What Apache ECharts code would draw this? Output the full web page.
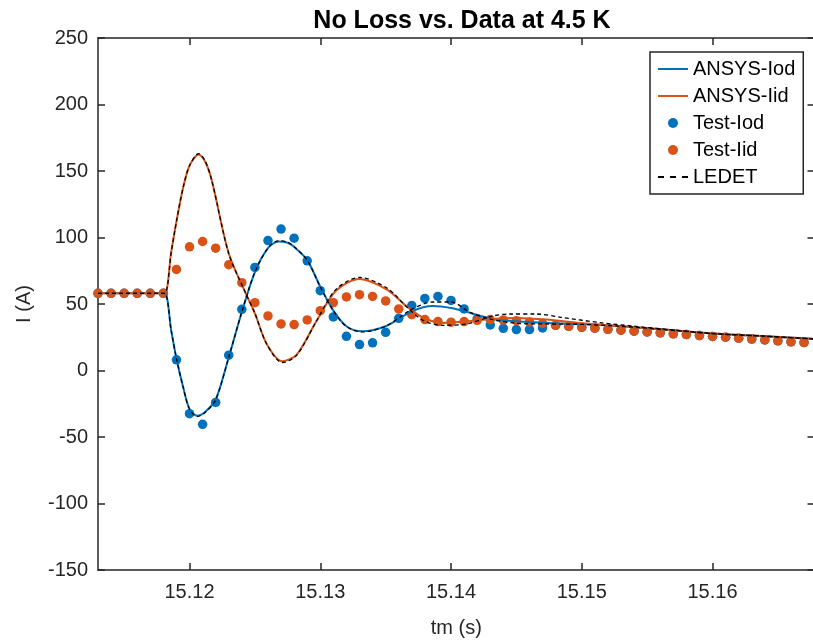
<!DOCTYPE html>
<html>
<head>
<meta charset="utf-8">
<script src="https://cdn.jsdelivr.net/npm/echarts@6/dist/echarts.min.js"></script>
<style>html,body{margin:0;padding:0;background:#fff;overflow:hidden;width:813px;height:643px;}#c{width:830px;height:643px;}</style>
</head>
<body>
<div id="c"></div>
<script>
// ---- data ----
const xTicks = [15.12, 15.13, 15.14, 15.15, 15.16];
const yTicks = [-150, -100, -50, 0, 50, 100, 150, 200, 250];

const ansysIodT = [15.113, 15.1175, 15.1181, 15.1186, 15.119, 15.1195, 15.120, 15.1206, 15.1212, 15.122, 15.123, 15.124, 15.125, 15.126, 15.1268, 15.1275, 15.128, 15.129, 15.130, 15.131, 15.132, 15.1332, 15.135, 15.137, 15.1386, 15.140, 15.1415, 15.1431, 15.145, 15.1473, 15.150, 15.153, 15.156, 15.160, 15.164, 15.169];
const ansysIodV = [58, 58, 58, 30, 9, -12, -29, -34, -31, -22, 10, 44, 74, 92, 97, 96, 93, 83, 63, 45, 33.3, 29.5, 33.3, 44.5, 48.5, 47, 43.3, 38.8, 37, 35.8, 35, 33.3, 31, 27.8, 25.8, 23];

const ansysIidT = [15.113, 15.1175, 15.1181, 15.1186, 15.119, 15.1195, 15.120, 15.1207, 15.1212, 15.1217, 15.123, 15.1243, 15.125, 15.1259, 15.1271, 15.1282, 15.1297, 15.1312, 15.133, 15.1351, 15.1366, 15.1379, 15.1394, 15.1412, 15.1432, 15.145, 15.1473, 15.150, 15.153, 15.156, 15.160, 15.164, 15.169];
const ansysIidV = [58, 58, 58, 89, 112, 137, 154, 162.5, 157, 143, 88, 58, 43, 20, 7, 12, 37, 60, 68.8, 60.8, 48.3, 39.5, 35.8, 37, 38.8, 39.5, 38.3, 35.5, 33.3, 31, 27.8, 25.8, 23];

const testT = [15.113, 15.114, 15.115, 15.116, 15.117, 15.118, 15.119, 15.120, 15.121, 15.122, 15.123, 15.124, 15.125, 15.126, 15.127, 15.128, 15.129, 15.130, 15.131, 15.132, 15.133, 15.134, 15.135, 15.136, 15.137, 15.138, 15.139, 15.140, 15.141, 15.142, 15.143, 15.144, 15.145, 15.146, 15.147, 15.148, 15.149, 15.150, 15.151, 15.152, 15.153, 15.154, 15.155, 15.156, 15.157, 15.158, 15.159, 15.160, 15.161, 15.162, 15.163, 15.164, 15.165, 15.166, 15.167];
const testIod = [58, 58, 58, 58, 58, 58, 8, -32.5, -40.5, -24, 11.5, 46, 77.5, 97.7, 106.3, 99.5, 82.5, 60, 40.3, 25.7, 19.5, 20.8, 28.7, 39.2, 48.8, 54.2, 55.7, 52.7, 46.3, 38.8, 34.3, 31.7, 30.8, 30.8, 32, 34, 33.2, 32.5, 31.8, 31, 30.3, 29.6, 29, 28.3, 27.6, 27, 26.3, 25.6, 25, 24.3, 23.6, 23, 22.3, 21.6, 21];
const testIid = [58, 58, 58, 58, 58, 58, 76, 93, 97, 92, 79.5, 66, 51, 41, 35, 34.5, 38, 45, 51, 55.3, 57, 55.7, 52.3, 46.3, 42, 38.3, 36.8, 36.3, 36.8, 37.7, 38.3, 38, 37.5, 36.5, 35.5, 34, 33.2, 32.5, 31.8, 31, 30.3, 29.6, 29, 28.3, 27.6, 27, 26.3, 25.6, 25, 24.3, 23.6, 23, 22.3, 21.6, 21];

const ledetIodT = [15.113, 15.1175, 15.1181, 15.1186, 15.119, 15.1195, 15.120, 15.1206, 15.1212, 15.122, 15.123, 15.124, 15.125, 15.126, 15.1268, 15.1275, 15.128, 15.129, 15.130, 15.131, 15.132, 15.1332, 15.135, 15.137, 15.1386, 15.140, 15.1415, 15.1431, 15.145, 15.1473, 15.150, 15.153, 15.156, 15.160, 15.164, 15.169];
const ledetIodV = [58, 58, 58, 30, 9, -12, -29, -34.5, -31.5, -22, 10, 44, 74, 92, 97.5, 96.5, 93, 83, 63, 45, 33, 29, 33.3, 46, 51.5, 51.5, 43.5, 38.5, 35.5, 35, 34.7, 33.3, 31, 27.8, 25.8, 23];

const ledetIidT = [15.113, 15.1175, 15.1181, 15.1186, 15.119, 15.1195, 15.120, 15.1207, 15.1212, 15.1217, 15.123, 15.1243, 15.125, 15.1259, 15.1271, 15.1282, 15.1297, 15.1312, 15.133, 15.1351, 15.1366, 15.1379, 15.1394, 15.1412, 15.1432, 15.1445, 15.1465, 15.1484, 15.1514, 15.154, 15.157, 15.160, 15.164, 15.169];
const ledetIidV = [58, 58, 58, 89, 112, 137, 154, 163, 157.5, 143, 88, 58, 43, 20, 6, 11.5, 37, 61, 70, 62, 48, 37.5, 34, 35, 41, 42.5, 42.5, 40, 36, 33.3, 30.5, 27.8, 25.8, 23.1];

const zip = (t, v) => t.map((x, i) => [x, v[i]]);

const BLUE = '#0072BD', ORANGE = '#D95319', AX = '#262626';
const FONT = 'Liberation Sans';
const LINE_ICON = 'path://M0,0h30v2h-30z';
const DASH_ICON = 'path://M0,0h6v2h-6zM12,0h6v2h-6zM24,0h6v2h-6z';

const chart = echarts.init(document.getElementById('c'), null, {renderer: 'canvas'});

const axisCommon = {
  axisLine: {show: true, onZero: false, lineStyle: {color: AX, width: 1.5}},
  splitLine: {show: false}
};

chart.setOption({
  animation: false,
  backgroundColor: '#fff',
  title: {
    text: 'No Loss vs. Data at 4.5 K',
    left: 457, textAlign: 'center', top: 4,
    textStyle: {fontFamily: FONT, fontSize: 25, fontWeight: 'bold', color: '#000'}
  },
  grid: {left: 98, top: 38, width: 716.5, bottom: 73, containLabel: false},
  legend: {
    data: [
      {name: 'ANSYS-Iod', icon: LINE_ICON},
      {name: 'ANSYS-Iid', icon: LINE_ICON},
      {name: 'Test-Iod', icon: 'circle'},
      {name: 'Test-Iid', icon: 'circle'},
      {name: 'LEDET', icon: DASH_ICON}
    ],
    orient: 'vertical', left: 650, top: 52,
    padding: [7, 8, 7, 8], itemGap: 7, itemWidth: 30, itemHeight: 10,
    borderColor: AX, borderWidth: 1.5, backgroundColor: '#fff',
    textStyle: {fontFamily: FONT, fontSize: 20, color: '#000', lineHeight: 20},
    selectedMode: false
  },
  xAxis: [{
    type: 'value', min: 15.113, max: 15.1678, position: 'bottom',
    ...axisCommon,
    axisTick: {show: true, inside: true, length: 7, customValues: xTicks, lineStyle: {color: AX, width: 1.5}},
    axisLabel: {show: true, customValues: xTicks, margin: 12, fontFamily: FONT, fontSize: 20, color: AX,
      formatter: v => v.toFixed(2)},
    name: 'tm (s)', nameLocation: 'middle', nameGap: 48,
    nameTextStyle: {fontFamily: FONT, fontSize: 20, color: AX}
  }, {
    type: 'value', min: 15.113, max: 15.1678, position: 'top',
    ...axisCommon,
    axisTick: {show: true, inside: true, length: 7, customValues: xTicks, lineStyle: {color: AX, width: 1.5}},
    axisLabel: {show: false}
  }],
  yAxis: [{
    type: 'value', min: -150, max: 250, interval: 50, position: 'left',
    ...axisCommon,
    axisTick: {show: true, inside: true, length: 7, lineStyle: {color: AX, width: 1.5}},
    axisLabel: {show: true, margin: 10, fontFamily: FONT, fontSize: 20, color: AX},
    name: 'I (A)', nameLocation: 'middle', nameGap: 64,
    nameTextStyle: {fontFamily: FONT, fontSize: 20, color: AX}
  }, {
    type: 'value', min: -150, max: 250, interval: 50, position: 'right',
    ...axisCommon,
    axisTick: {show: true, inside: true, length: 7, lineStyle: {color: AX, width: 1.5}},
    axisLabel: {show: false}
  }],
  series: [
    {name: 'ANSYS-Iod', type: 'line', data: zip(ansysIodT, ansysIodV), symbol: 'none', smooth: 0.3,
      lineStyle: {color: BLUE, width: 2}, itemStyle: {color: BLUE}},
    {name: 'ANSYS-Iid', type: 'line', data: zip(ansysIidT, ansysIidV), symbol: 'none', smooth: 0.3,
      lineStyle: {color: ORANGE, width: 2}, itemStyle: {color: ORANGE}},
    {name: 'Test-Iod', type: 'scatter', data: zip(testT, testIod), symbol: 'circle', symbolSize: 9.5,
      itemStyle: {color: BLUE, opacity: 1}},
    {name: 'Test-Iid', type: 'scatter', data: zip(testT, testIid), symbol: 'circle', symbolSize: 9.5,
      itemStyle: {color: ORANGE, opacity: 1}},
    {name: 'LEDET', type: 'line', data: zip(ledetIodT, ledetIodV), symbol: 'none', smooth: 0.3,
      lineStyle: {color: '#000', width: 1.3, type: [4, 3]}, itemStyle: {color: '#000'}},
    {name: 'LEDET', type: 'line', data: zip(ledetIidT, ledetIidV), symbol: 'none', smooth: 0.3,
      lineStyle: {color: '#000', width: 1.3, type: [4, 3]}, itemStyle: {color: '#000'}}
  ]
});
</script>
</body>
</html>
